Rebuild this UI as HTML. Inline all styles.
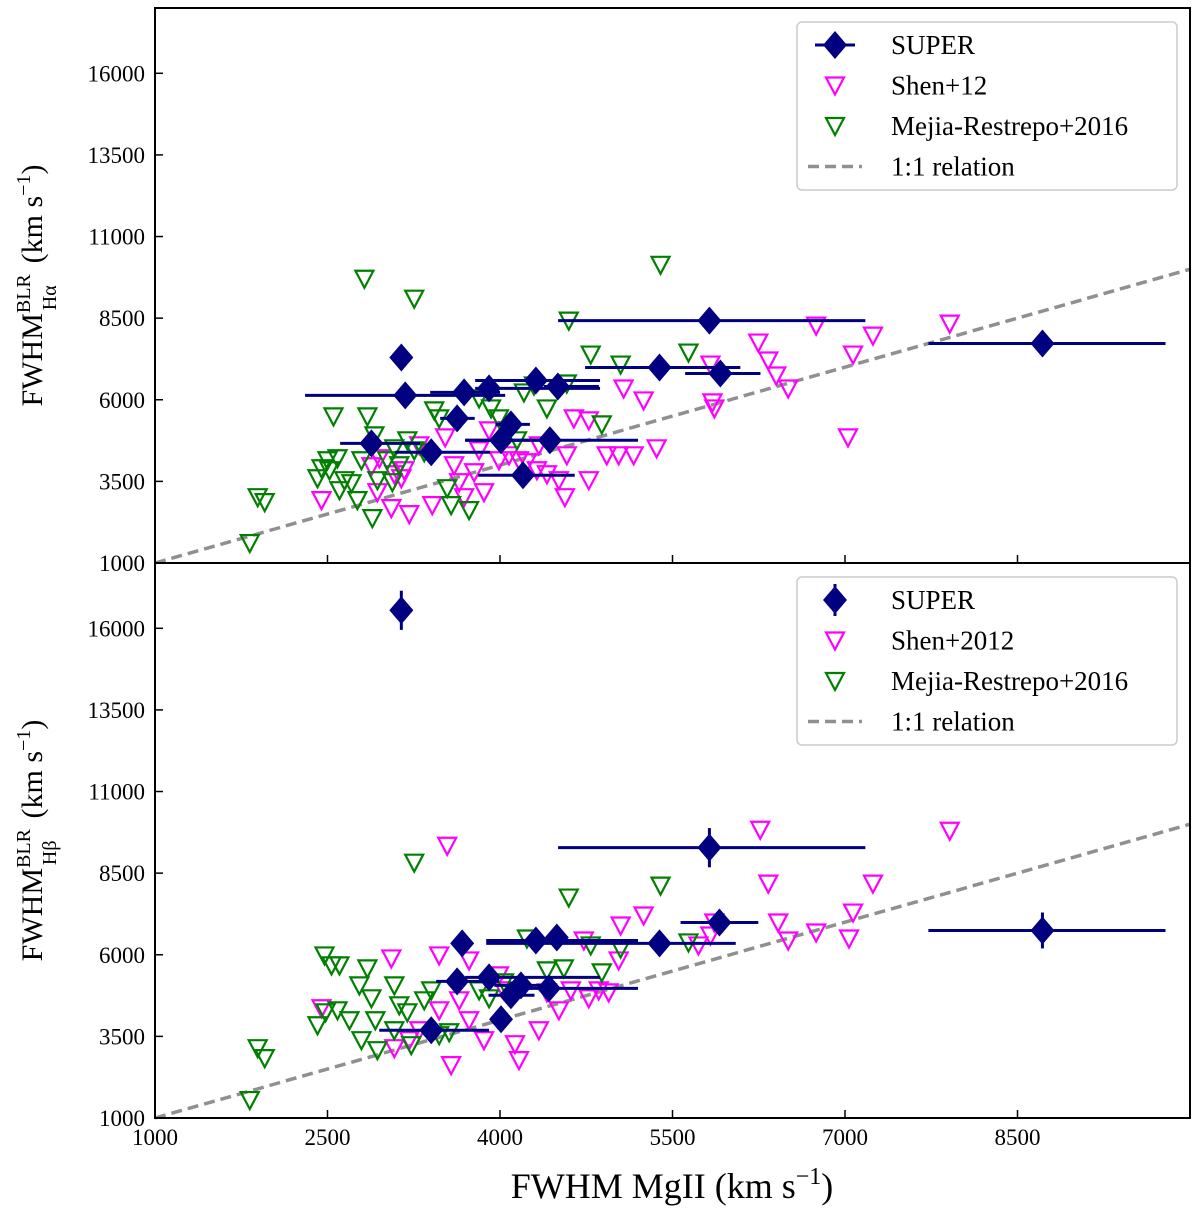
<!DOCTYPE html>
<html><head><meta charset="utf-8"><style>
body{margin:0;background:#fff;width:1200px;height:1221px;overflow:hidden}
svg{display:block;font-family:"Liberation Serif",serif}
</style></head><body>
<svg id="chart" width="1200" height="1221" xmlns="http://www.w3.org/2000/svg"></svg>
<script>
const xTicks=[1000,2500,4000,5500,7000,8500];
const yTicks=[1000,3500,6000,8500,11000,13500,16000];
// SUPER Halpha: x, y, xlo, xhi
const superHaX=[3142,3176,2882,3402,3627,3688,3905,4009,4095,4200,4312,4434,4503,5387,5821,5916,8717];
const superHaY=[7294,6133,4666,4391,5430,6225,6347,4758,5247,3689,6591,4758,6408,6988,8424,6805,7722];
const superHaXlo=[3142,2305,2610,3088,3480,3393,3784,3697,3960,3810,3784,3697,4380,4740,4505,5610,7725];
const superHaXhi=[3142,4045,3305,3915,3780,4000,4870,4380,4260,4650,4870,5200,4860,6090,7177,6265,9787];
const superHbX=[3142,3671,3627,3905,4312,4494,4095,4182,4425,3402,4009,5387,5821,5908,8717];
const superHbY=[16551,6347,5186,5308,6438,6530,4758,5064,4972,3689,4025,6347,9280,6988,6744];
const superHbXlo=[3142,3671,3445,3697,3880,4494,3900,3950,4165,2950,4009,3880,4505,5570,7725];
const superHbXhi=[3142,3671,3990,4870,5200,4494,4300,4400,5200,3905,4009,6050,7177,6246,9787];
const superHbYerr=[600,0,0,0,0,0,0,0,0,0,0,0,600,0,550];
const shenHaX=[2448,2882,2934,3055,3211,3081,3142,2951,3411,3523,3601,3645,3688,3775,3861,3905,4078,4165,4234,4321,4408,4512,4564,4581,4338,4642,4772,4928,5032,5162,5075,5249,4772,5362,5830,5847,5864,6246,6333,6402,6506,6749,7026,7070,7243,7911,3168,3298,3991,3818];
const shenHaY=[2925,3963,3169,2680,2497,3719,3597,4208,2772,4849,3994,3475,3016,3780,3169,5063,4299,4147,4086,3841,3719,3536,3016,4299,4605,5430,3536,4299,4299,4299,6346,5980,5369,4513,7079,5919,5735,7752,7202,6743,6346,8271,4849,7385,7965,8332,3841,4605,4147,4452];
const mejHaX=[1824,1893,1954,2821,3254,5396,4598,4789,5049,5639,2552,2847,2908,2413,2448,2500,2587,2647,2708,2795,2890,3064,3124,3194,3254,3428,3471,3575,3731,3818,3922,3991,4078,4148,4208,4295,4408,4581,4885,3020,3541,2517,2604,2760,2934,3341,3081];
const mejHaY=[1611,3016,2864,9707,9096,10134,8424,7385,7079,7446,5491,5491,4910,3597,3902,4147,4208,3536,3444,4147,2375,3475,3994,4758,4452,5674,5430,2772,2619,6041,5735,5430,5063,4758,6224,6438,5735,6499,5246,4147,3291,3841,3230,2925,3536,4391,4513];
const shenHbX=[2448,3055,3211,3081,3298,3471,3541,3575,3645,3731,3471,3861,4165,4130,4338,4512,4408,4616,4772,4859,4945,5049,5249,4729,5032,5726,5830,5864,6263,6333,6419,6506,6749,7035,7070,7243,7911,4035,3731,3991];
const shenHbY=[4361,5888,3383,3139,3688,4299,9340,2619,4605,3994,5980,3383,2772,3261,3688,4299,4849,4910,4666,4910,4849,6896,7202,6438,5827,6285,6591,6988,9829,8179,6988,6438,6682,6499,7293,8179,9798,4910,5827,5369];
const mejHbX=[1824,1893,1954,3254,4598,5396,2474,2535,2604,2413,2483,2587,2691,2777,2847,2882,2916,3081,3124,3194,3341,3402,3471,3558,3818,3905,4035,4234,4408,4555,4789,4885,5049,5639,2795,2934,3081,3228];
const mejHbY=[1550,3139,2833,8821,7752,8118,5980,5674,5674,3841,4238,4299,3994,5063,5583,4666,3994,5063,4452,4238,4605,4910,3536,3627,4910,4666,5155,6499,5521,5583,6285,5460,6193,6377,3383,3077,3688,3230];

const NS='http://www.w3.org/2000/svg';
const svg=document.getElementById('chart');
const L=155,R=1190;
const xs=v=>L+(v-1000)*(R-L)/9000;
function mk(tag,at,parent){const e=document.createElementNS(NS,tag);for(const k in at)e.setAttribute(k,at[k]);(parent||svg).appendChild(e);return e;}

function panel(top,bot,name,data){
  const ys=v=>bot-(v-1000)*(bot-top)/17000;
  const g=mk('g',{});
  
  
  const ln=mk('line',{x1:xs(1000),y1:ys(1000),x2:xs(10000),y2:ys(10000),stroke:'#909090','stroke-width':3.5,'stroke-dasharray':'11,6'},g);
  
  
  const tri=(x,y,c,nm)=>{const cx=xs(x),cy=ys(y);const p=mk('polygon',{points:`${cx-9},${cy-8} ${cx+9},${cy-8} ${cx},${cy+9}`,fill:'none',stroke:c,'stroke-width':2.2},g);
    
    };
  data.shen[0].forEach((x,i)=>tri(x,data.shen[1][i],'#ff00ff','shen-point'));
  data.mej[0].forEach((x,i)=>tri(x,data.mej[1][i],'#008000','mejia-point'));
  const s=data.sup;
  s[0].forEach((x,i)=>{
    const cx=xs(x),cy=ys(s[1][i]);
    if(s[2][i]!==s[3][i]){const e=mk('line',{x1:xs(s[2][i]),x2:xs(s[3][i]),y1:cy,y2:cy,stroke:'#000080','stroke-width':3},g);
      
      }
    const ye=s[4]?s[4][i]:0;
    if(ye){const e=mk('line',{x1:cx,x2:cx,y1:ys(s[1][i]-ye),y2:ys(s[1][i]+ye),stroke:'#000080','stroke-width':3},g);
      
      }
    const d=mk('polygon',{points:`${cx},${cy-14} ${cx+12},${cy} ${cx},${cy+14} ${cx-12},${cy}`,fill:'#000080'},g);
    
    
  });
  const fr=mk('rect',{x:L,y:top,width:R-L,height:bot-top,fill:'none',stroke:'#000','stroke-width':2},g);
  
  
  yTicks.forEach(t=>{const y=ys(t);
    mk('line',{x1:L,x2:L+8,y1:y,y2:y,stroke:'#000','stroke-width':1.5},g);
    const tx=mk('text',{x:L-10,y:y+8,'font-size':23,'text-anchor':'end'},g);tx.textContent=t;
    
    });
  xTicks.forEach(t=>{const x=xs(t);mk('line',{x1:x,x2:x,y1:bot,y2:bot-8,stroke:'#000','stroke-width':1.5},g);});
  const cy=(top+bot)/2;
  const yl=mk('text',{transform:`translate(42,${cy}) rotate(-90)`,'text-anchor':'middle','font-size':30},g);
  yl.innerHTML=`FWHM<tspan font-size="20" dy="-12">BLR</tspan><tspan font-size="20" dx="-36" dy="26">${data.sub}</tspan><tspan dy="-14" dx="22">(km s</tspan><tspan font-size="20" dy="-12">−1</tspan><tspan dy="12">)</tspan>`;
  
  
  const lg=mk('g',{},g);
  
  
  const ly=top+14;
  mk('rect',{x:797,y:ly,width:380,height:168,rx:5,fill:'#fff',stroke:'#ccc','stroke-width':1.5},lg);
  data.labels.forEach((lab,i)=>{
    const yy=ly+23+i*40.5,cx=835;
    if(i===0){if(data.bar)mk('line',{x1:cx,x2:cx,y1:yy-16,y2:yy+16,stroke:'#000080','stroke-width':3},lg);
      else mk('line',{x1:cx-20,x2:cx+20,y1:yy,y2:yy,stroke:'#000080','stroke-width':3},lg);
      mk('polygon',{points:`${cx},${yy-14} ${cx+12},${yy} ${cx},${yy+14} ${cx-12},${yy}`,fill:'#000080'},lg);}
    else if(i<3){const c=i===1?'#ff00ff':'#008000';mk('polygon',{points:`${cx-9},${yy-8} ${cx+9},${yy-8} ${cx},${yy+9}`,fill:'none',stroke:c,'stroke-width':2.2},lg);}
    else mk('line',{x1:cx-27,x2:cx+27,y1:yy,y2:yy,stroke:'#909090','stroke-width':3.5,'stroke-dasharray':'11,6'},lg);
    const t=mk('text',{x:891,y:yy+9,'font-size':27},lg);t.textContent=lab;
    
    
  });
}
panel(8,563,'halpha-panel',{sup:[superHaX,superHaY,superHaXlo,superHaXhi],shen:[shenHaX,shenHaY],mej:[mejHaX,mejHaY],sub:'Hα',labels:['SUPER','Shen+12','Mejia-Restrepo+2016','1:1 relation'],bar:false});
panel(563,1118,'hbeta-panel',{sup:[superHbX,superHbY,superHbXlo,superHbXhi,superHbYerr],shen:[shenHbX,shenHbY],mej:[mejHbX,mejHbY],sub:'Hβ',labels:['SUPER','Shen+2012','Mejia-Restrepo+2016','1:1 relation'],bar:true});
xTicks.forEach(t=>{const tx=mk('text',{x:xs(t),y:1145,'font-size':23,'text-anchor':'middle'});tx.textContent=t;
  
  });
const xl=mk('text',{x:672,y:1198,'font-size':36,'text-anchor':'middle'});
xl.innerHTML='FWHM MgII (km s<tspan font-size="24" dy="-14">−1</tspan><tspan dy="14">)</tspan>';


</script>
</body></html>
